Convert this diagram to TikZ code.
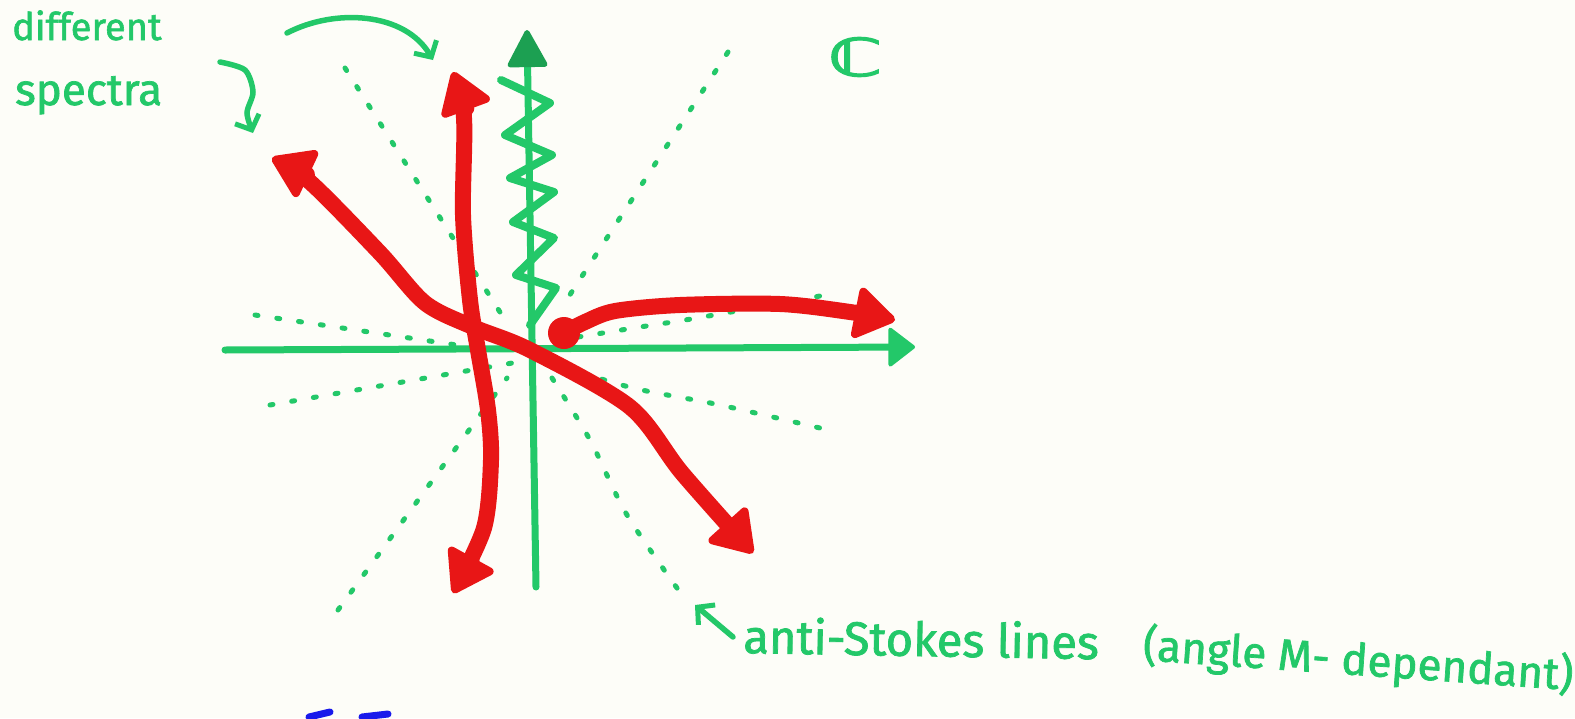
\documentclass[tikz,border=0pt]{standalone}
\usepackage{fontspec}
\setmainfont{Fira Sans}[FakeBold=1.6]
\newfontfamily\symbfont{DejaVu Sans}[FakeBold=2.5]
\usetikzlibrary{arrows.meta}

\definecolor{penGreen}{RGB}{35,200,105}
\definecolor{penDark}{RGB}{28,160,82}
\definecolor{penRed}{RGB}{232,22,22}
\definecolor{penBlue}{RGB}{25,25,235}
\definecolor{paper}{RGB}{253,253,248}

\tikzset{
  redtip/.tip={Triangle[round, line width=8pt, length=44pt, width=56pt]},
  notetip/.tip={Straight Barb[length=12pt, width=26pt, line width=5pt]},
  axisline/.style={penGreen, line width=7pt, line cap=round},
  antistokes/.style={penGreen, line width=5pt, line cap=round, dash pattern=on 3pt off 19pt},
  spectrum/.style={penRed, line width=16pt, line cap=round, line join=round},
  pennote/.style={penGreen, line width=5.5pt, line cap=round},
  handtext/.style={penGreen, inner sep=0pt},
}

\begin{document}
\begin{tikzpicture}[x=1pt, y=-1pt]
  % Paper
  \fill[paper] (0,0) rectangle (1575,718);
  \useasboundingbox (0,0) rectangle (1575,718);

  % Axes of the complex plane
  \coordinate (O) at (530,350);
  \coordinate (xl) at (225,350);
  \coordinate (xr) at (915,347);
  \coordinate (yb) at (536,587);
  \coordinate (yt) at (527,30);
  \draw[axisline, -{Triangle[round, line width=4pt, length=28pt, width=42pt]}] (xl) -- (xr);
  \draw[axisline, -{Triangle[round, line width=5pt, length=40pt, width=42pt, color=penDark]}] (yb) -- (yt);
  % branch cut (zigzag)
  \draw[penGreen, line width=8pt, line join=round, line cap=round]
    plot coordinates {(530,325) (556,288) (516,275) (554,238) (513,222) (554,192)
      (510,178) (552,155) (505,135) (550,103) (501,80)};

  % Anti-Stokes lines
  \draw[antistokes] (345,68) -- (505,320);
  \draw[antistokes] (255,315) -- (470,347);
  \draw[antistokes] (728,52) -- (560,310);
  \draw[antistokes] plot[smooth] coordinates {(578,337) (640,327) (697,318) (820,296)};
  \draw[antistokes] (270,405) -- (518,362);
  \draw[antistokes] (338,610) -- (507,378);
  \draw[antistokes] plot[smooth] coordinates {(560,366) (633,388) (720,405) (837,432)};
  \draw[antistokes] plot[smooth] coordinates {(552,378) (590,440) (627,515) (682,595)};

  % Spectra
  \coordinate (sa1) at (272,158);
  \coordinate (sa2) at (753,553);
  \draw[spectrum, {redtip}-{redtip}] plot[smooth] coordinates
    {(sa1) (310,182) (380,253) (425,303) (473,327) (530,350) (630,407) (682,473) (sa2)};
  \coordinate (sb1) at (453,72);
  \coordinate (sb2) at (453,593);
  \draw[spectrum, {redtip}-{redtip}] plot[smooth] coordinates
    {(sb1) (464,118) (463,215) (470,300) (478,350) (488,410) (491,460) (484,528) (sb2)};
  \coordinate (sc1) at (564,333);
  \coordinate (sc2) at (895,320);
  \fill[penRed] (sc1) circle (16pt);
  \draw[spectrum, -{redtip}] plot[smooth] coordinates
    {(sc1) (585,322) (615,311) (680,305) (780,304) (850,312) (sc2)};

  % Labels
  \node[handtext] (cplx) at (855,57) {\scalebox{1.5}[1]{\symbfont\fontsize{52}{52}\selectfont ℂ}};
  \node[handtext, anchor=base west, font=\fontsize{38}{40}\selectfont] (diff) at (12,40) {different};
  \node[handtext, anchor=base west, font=\fontsize{44}{46}\selectfont] (spec) at (15,105) {spectra};
  \node[handtext, anchor=base west, font=\fontsize{47}{48}\selectfont, rotate=-1] (asl) at (743,653) {anti-Stokes lines};
  \node[handtext, anchor=base west, font=\fontsize{44}{46}\selectfont, rotate=-4] (angl) at (1142,660) {(angle M- dependant)};

  % Pointers from the labels
  \coordinate (p1a) at (220,62);
  \coordinate (p1b) at (253,133);
  \draw[pennote, -{notetip}] plot[smooth] coordinates {(p1a) (245,70) (253,92) (247,113) (p1b)};
  \coordinate (p2a) at (287,33);
  \coordinate (p2b) at (433,60);
  \draw[pennote, -{notetip}] (p2a) .. controls (335,8) and (405,12) .. (p2b);
  \coordinate (p3a) at (733,637);
  \coordinate (p3b) at (695,605);
  \draw[pennote, -{notetip}] (p3a) -- (p3b);

  % bit of blue ink at the bottom edge
  \draw[penBlue, line width=7pt, line cap=round] (309,717) -- (330,712);
  \draw[penBlue, line width=7pt, line cap=round] (362,717) -- (388,714);
\end{tikzpicture}
\end{document}
